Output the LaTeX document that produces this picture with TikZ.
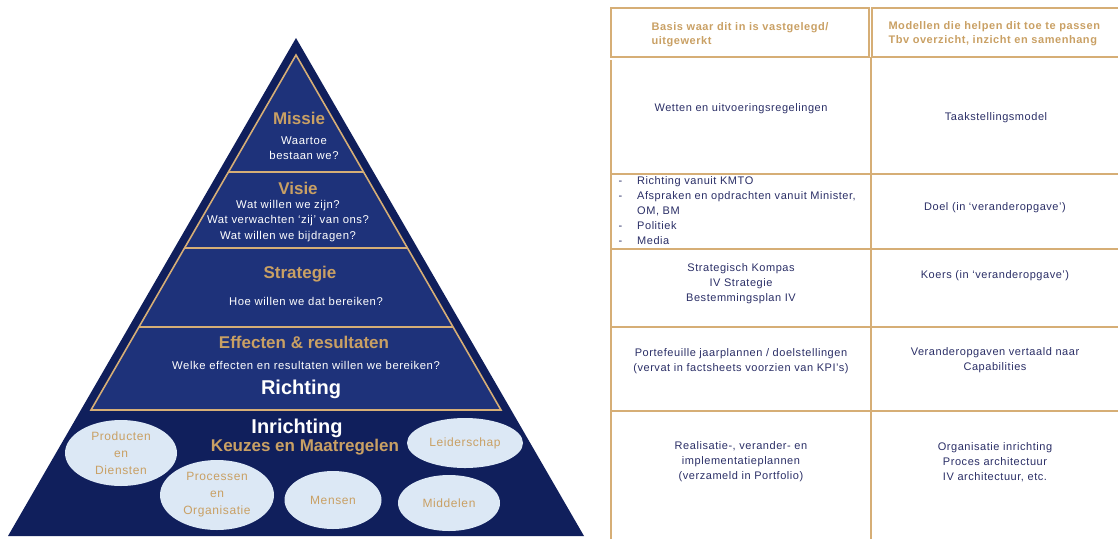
\documentclass[tikz,border=0pt]{standalone}
\usepackage{fontspec}
\setmainfont{Liberation Sans}
\newfontfamily\ruim{Liberation Sans}[LetterSpace=5]
\usetikzlibrary{shapes.geometric}
\definecolor{donker}{RGB}{16,31,92}
\definecolor{midden}{RGB}{30,50,122}
\definecolor{goud}{RGB}{201,160,100}
\definecolor{lijngoud}{RGB}{214,174,118}
\definecolor{lichtblauw}{RGB}{220,232,245}
\definecolor{inkt}{RGB}{42,46,102}
\begin{document}
\begin{tikzpicture}[x=1pt,y=-1pt,
  kop/.style={font=\bfseries\fontsize{17}{19}\selectfont,text=goud},
  groot/.style={font=\bfseries\fontsize{20}{22}\selectfont,text=white},
  vraag/.style={font=\ruim\fontsize{11.3}{15.5}\selectfont,text=white,align=center},
  bol/.style={ellipse,fill=lichtblauw,text=goud,inner sep=0pt,align=center,
    font=\ruim\fontsize{12}{17}\selectfont},
  lijn/.style={draw=lijngoud,line width=1.8pt},
  tabkop/.style={anchor=west,align=left,text=goud,font=\ruim\bfseries\fontsize{11}{14}\selectfont},
  cel/.style={align=center,text=inkt,font=\ruim\fontsize{11}{15}\selectfont}]
\useasboundingbox (0,0) rectangle (1118,539);
% pyramid
\fill[donker] (296,38) -- (584,536) -- (8,536) -- cycle;
\draw[lijn,fill=midden,line width=1.6pt] (296,55) -- (501,410) -- (91,410) -- cycle;
\draw[lijn,line width=1.6pt] (228.4,172) -- (363.6,172);
\draw[lijn,line width=1.6pt] (184.4,248) -- (407.6,248);
\draw[lijn,line width=1.6pt] (138.8,327) -- (453.2,327);
\node[kop] (missie) at (299,118) {Missie};
\node[vraag] (waartoe) at (304,148) {Waartoe\\bestaan we?};
\node[kop] (visie) at (298,188) {Visie};
\node[vraag] (zijn) at (288,221) {Wat willen we zijn?\\Wat verwachten ‘zij’ van ons?\\Wat willen we bijdragen?};
\node[kop] (strategie) at (300,274) {Strategie};
\node[vraag] (hoe) at (306,301) {Hoe willen we dat bereiken?};
\node[kop] (effecten) at (304,342) {Effecten \& resultaten};
\node[vraag] (welke) at (306,365) {Welke effecten en resultaten willen we bereiken?};
\node[groot] (richting) at (301,389) {Richting};
\node[groot] (inrichting) at (297,428) {Inrichting};
\node[kop] (keuzes) at (305,447) {Keuzes en Maatregelen};
\node[bol,minimum width=112pt,minimum height=66pt] (producten) at (121,453) {Producten\\en\\Diensten};
\node[bol,minimum width=114pt,minimum height=70pt] (processen) at (217,495) {Processen\\en\\Organisatie};
\node[bol,minimum width=97pt,minimum height=58pt] (mensen) at (333,500) {Mensen};
\node[bol,minimum width=102pt,minimum height=56pt] (middelen) at (449,503) {Middelen};
\node[bol,minimum width=116pt,minimum height=50pt] (leiderschap) at (465,443) {Leiderschap};
% table
\draw[lijn] (611,8) rectangle (869,57);
\draw[lijn] (1118,8) -- (872,8) -- (872,57) -- (1118,57);
\draw[lijn] (611,60) -- (611,539);
\draw[lijn] (871,57) -- (871,539);
\foreach \y in {174,249,327,411}
  \draw[lijn] (611,\y) -- (1118,\y);
\node[tabkop] (basis) at (648,35) {Basis waar dit in is vastgelegd/\\uitgewerkt};
\node[tabkop] (modellen) at (885,34) {Modellen die helpen dit toe te passen\\Tbv overzicht, inzicht en samenhang};
\node[cel] (wetten) at (741,109) {Wetten en uitvoeringsregelingen};
\node[cel] (taak) at (996,118) {Taakstellingsmodel};
\node[cel,anchor=west,align=left] (kmto) at (615,211) {\begin{tabular}{@{}l@{\hspace{15pt}}l@{}}
-&Richting vanuit KMTO\\
-&Afspraken en opdrachten vanuit Minister,\\
&OM, BM\\
-&Politiek\\
-&Media\end{tabular}};
\node[cel] (doel) at (995,208) {Doel (in ‘veranderopgave’)};
\node[cel] (kompas) at (741,284) {Strategisch Kompas\\IV Strategie\\Bestemmingsplan IV};
\node[cel] (koers) at (995,276) {Koers (in ‘veranderopgave’)};
\node[cel] (portefeuille) at (741,361) {Portefeuille jaarplannen / doelstellingen\\(vervat in factsheets voorzien van KPI’s)};
\node[cel] (opgaven) at (995,360) {Veranderopgaven vertaald naar\\Capabilities};
\node[cel] (realisatie) at (741,462) {Realisatie-, verander- en\\implementatieplannen\\(verzameld in Portfolio)};
\node[cel] (organisatie) at (995,462) {Organisatie inrichting\\Proces architectuur\\IV architectuur, etc.};
\end{tikzpicture}
\end{document}
